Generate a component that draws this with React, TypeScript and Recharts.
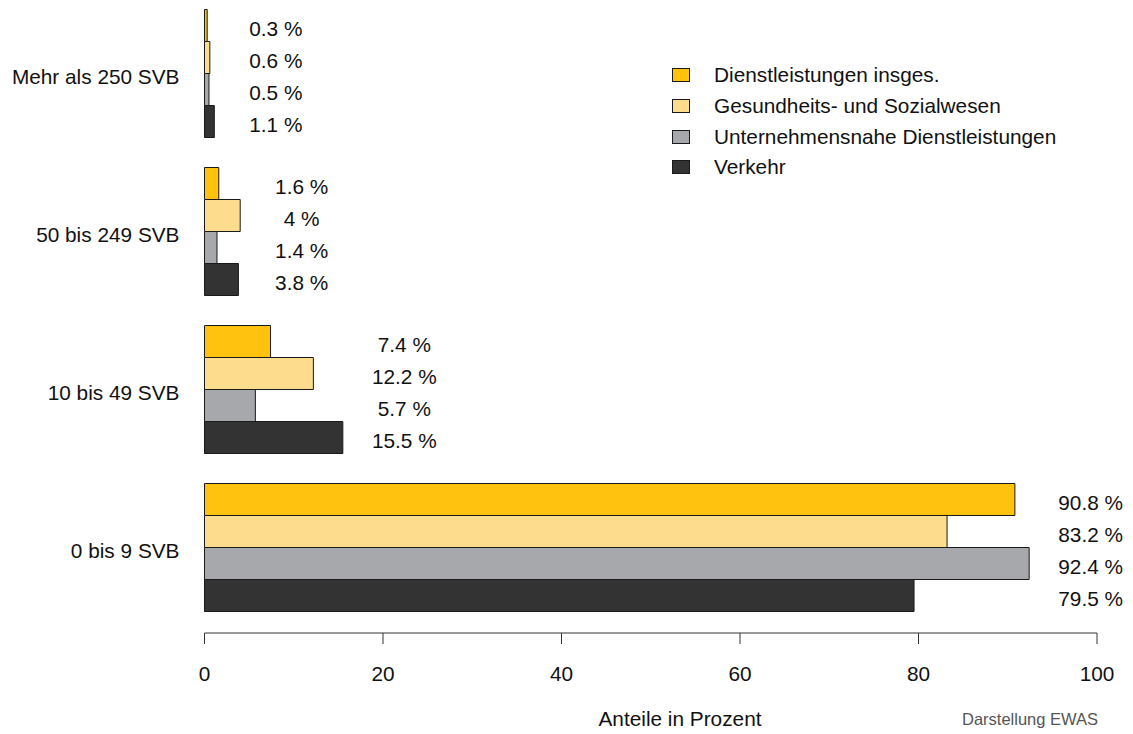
import React from 'react';
import { BarChart, Bar, XAxis, YAxis, LabelList } from 'recharts';

const categories = ['Mehr als 250 SVB', '50 bis 249 SVB', '10 bis 49 SVB', '0 bis 9 SVB'];
const dienstleistungen = [0.3, 1.6, 7.4, 90.8];
const gesundheit = [0.6, 4, 12.2, 83.2];
const unternehmensnah = [0.5, 1.4, 5.7, 92.4];
const verkehr = [1.1, 3.8, 15.5, 79.5];
const xTicks = [0, 20, 40, 60, 80, 100];

const series = [
  { key: 'd', name: 'Dienstleistungen insges.', color: '#FFC20E', values: dienstleistungen },
  { key: 'g', name: 'Gesundheits- und Sozialwesen', color: '#FDDC8E', values: gesundheit },
  { key: 'u', name: 'Unternehmensnahe Dienstleistungen', color: '#A7A8AB', values: unternehmensnah },
  { key: 'v', name: 'Verkehr', color: '#333333', values: verkehr },
];

const data = categories.map((cat, i) => {
  const row: Record<string, number | string> = { cat };
  series.forEach((s) => {
    row[s.key] = s.values[i];
  });
  return row;
});

// labels of a group sit right of the longest bar in that group
const groupMax = categories.map((_, i) => Math.max(...series.map((s) => s.values[i])));

const FONT = '"Liberation Sans", Arial, Helvetica, sans-serif';
const FS = 20.8;

function ValueLabel(props: any) {
  const { x, y, width, height, value, index } = props;
  const v = Number(value);
  const max = groupMax[index] ?? v;
  const lx = Number(x) + (Number(width) / v) * max + 61.5;
  return (
    <text
      x={lx}
      y={Number(y) + Number(height) / 2 + 3}
      textAnchor="middle"
      dominantBaseline="central"
      fontSize={FS}
      fill="#111"
    >
      {`${v} %`}
    </text>
  );
}

function CatTick(props: any) {
  const { x, y, payload } = props;
  return (
    <text x={x - 25} y={y + 3.5} textAnchor="end" dominantBaseline="central" fontSize={FS} fill="#111">
      {payload.value}
    </text>
  );
}

function LegendBox() {
  return (
    <div style={{ position: 'absolute', top: 66, left: 672 }}>
      {series.map((s) => (
        <div key={s.key} style={{ display: 'flex', alignItems: 'center', height: 30.7 }}>
          <span
            style={{
              display: 'inline-block',
              width: 16,
              height: 12,
              background: s.color,
              border: '1px solid #1a1a1a',
              marginRight: 24,
            }}
          />
          <span style={{ fontSize: FS, color: '#111', whiteSpace: 'nowrap' }}>{s.name}</span>
        </div>
      ))}
    </div>
  );
}

export default function App() {
  return (
    <div style={{ position: 'absolute', left: 0, top: -6, width: 1133, height: 740, fontFamily: FONT }}>
      <BarChart
        width={1133}
        height={740}
        data={data}
        layout="vertical"
        margin={{ top: 0, right: 36, bottom: 41, left: 0 }}
        barCategoryGap={15.5}
        barGap={0}
      >
        <XAxis
          type="number"
          domain={[0, 100]}
          ticks={xTicks}
          height={60}
          stroke="#333"
          tickSize={11}
          tickMargin={22}
          tick={{ fontSize: FS, fill: '#111' }}
          interval={0}
        />
        <YAxis
          type="category"
          dataKey="cat"
          width={204.5}
          axisLine={false}
          tickLine={false}
          tickSize={0}
          tickMargin={0}
          padding={{ top: 0, bottom: 7 }}
          tick={<CatTick />}
          interval={0}
        />
        {series.map((s) => (
          <Bar
            key={s.key}
            dataKey={s.key}
            name={s.name}
            fill={s.color}
            stroke="#1a1a1a"
            strokeWidth={1}
            isAnimationActive={false}
          >
            <LabelList dataKey={s.key} content={<ValueLabel />} />
          </Bar>
        ))}
      </BarChart>
      <LegendBox />
      <div
        style={{
          position: 'absolute',
          left: 560,
          width: 240,
          top: 711,
          textAlign: 'center',
          fontSize: FS,
          color: '#111',
          lineHeight: '28px',
        }}
      >
        Anteile in Prozent
      </div>
      <div
        style={{
          position: 'absolute',
          right: 35,
          top: 714,
          fontSize: 16.5,
          color: '#555',
          lineHeight: '22px',
        }}
      >
        Darstellung EWAS
      </div>
    </div>
  );
}
